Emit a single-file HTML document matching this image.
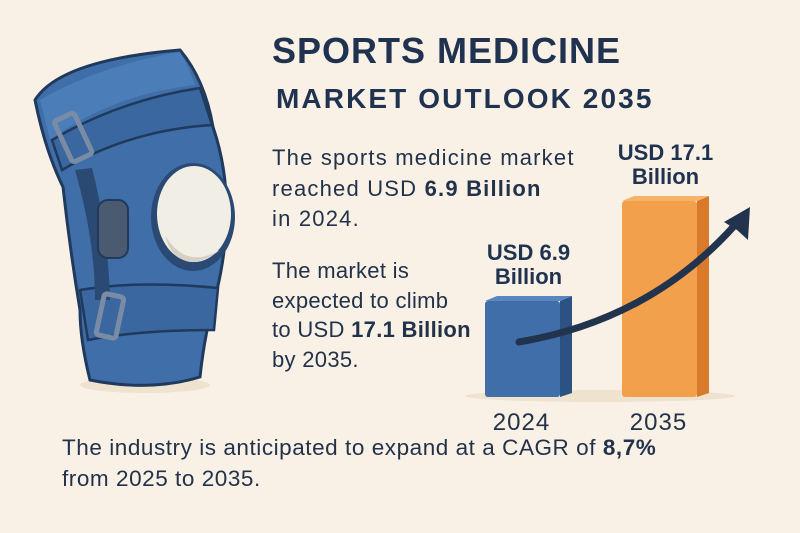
<!DOCTYPE html>
<html><head><meta charset="utf-8">
<style>
body{margin:0;width:800px;height:533px;background:#f9f1e6;overflow:hidden;font-family:"Liberation Sans",sans-serif;color:#22324a;position:relative}
.t{position:absolute;white-space:nowrap}
b{font-weight:bold}
</style></head><body>
<svg width="260" height="420" style="position:absolute;left:0;top:0">
<ellipse cx="145" cy="385" rx="65" ry="8" fill="#efe2cf"/>
<path d="M35,100 Q60,60 180,50 Q205,80 213,127 Q238,200 217,290 Q205,330 200,377 Q150,392 90,380 Q80,340 80,310 Q70,250 63,187 Q45,150 35,100Z" fill="#3f6ea8" stroke="#1f3a5c" stroke-width="3"/>
<path d="M40,100 Q100,65 180,52 Q190,70 195,85 Q110,95 50,140Z" fill="#4b7db8"/>
<path d="M52,140 Q120,100 200,88 L212,125 Q130,130 62,170Z" fill="#3a679f" stroke="#1f3a5c" stroke-width="2.5"/>
<path d="M80,290 Q140,280 218,288 L214,330 Q140,330 88,340Z" fill="#3a679f" stroke="#1f3a5c" stroke-width="2.5"/>
<path d="M75,170 Q95,240 95,300 L110,300 Q108,230 92,168Z" fill="#2b4a73"/>
<rect x="98" y="200" width="30" height="58" rx="10" fill="#4a5a70" stroke="#1f3a5c" stroke-width="2"/>
<rect x="62" y="115" width="22" height="45" rx="3" fill="none" stroke="#7a8ca5" stroke-width="5" transform="rotate(-25 73 137)"/>
<rect x="100" y="295" width="20" height="42" rx="3" fill="none" stroke="#7a8ca5" stroke-width="5" transform="rotate(12 110 316)"/>
<ellipse cx="193" cy="217" rx="42" ry="54" fill="#2b4a73"/>
<ellipse cx="194" cy="214" rx="37" ry="48" fill="#f1eee6"/>
<path d="M165,235 Q185,270 220,250 Q205,262 190,262 Q170,258 165,235Z" fill="#d6d0c4"/>
</svg>
<div class="t" style="left:272px;top:30px;font-size:36px;font-weight:bold;letter-spacing:1px;color:#1f3350">SPORTS MEDICINE</div>
<div class="t" style="left:276px;top:83px;font-size:28px;font-weight:bold;letter-spacing:2.1px;color:#1f3350">MARKET OUTLOOK 2035</div>
<div class="t" style="left:272px;top:143px;font-size:22px;line-height:30.5px;letter-spacing:1.2px">The sports medicine market<br>reached USD <b>6.9 Billion</b><br>in 2024.</div>
<div class="t" style="left:272px;top:256px;font-size:22px;line-height:29.5px;letter-spacing:0.3px">The market is<br>expected to climb<br>to USD <b>17.1 Billion</b><br>by 2035.</div>
<div class="t" style="left:62px;top:432px;font-size:22.5px;line-height:31px;letter-spacing:0.55px">The industry is anticipated to expand at a CAGR of <b>8,7%</b><br>from 2025 to 2035.</div>
<svg id="chart" width="800" height="533" style="position:absolute;left:0;top:0"></svg>
<script>
const categories=["2024","2035"];
const values=[6.9,17.1];
const valueLabels=["USD 6.9","USD 17.1"];
const svg=document.getElementById('chart');
const NS='http://www.w3.org/2000/svg';
const base=396, top_=196, vmin=-3.3, vmax=17.1;
function y(v){return base-(v-vmin)/(vmax-vmin)*(base-top_);}
function x(i){return 485+i*137;}
const fronts=["#3f6ea8","#f2a04c"], sides=["#2b5282","#d97a2a"], tops=["#5a87bf","#f6b36a"];
function el(t,a){const e=document.createElementNS(NS,t);for(const k in a)e.setAttribute(k,a[k]);svg.appendChild(e);return e;}
const sh=el('ellipse',{cx:600,cy:396,rx:135,ry:6,fill:'#efe2cf'});


values.forEach((v,i)=>{
  const x0=x(i), w=75, d=12, yt=y(v);
  const s=el('path',{d:`M${x0+w},${yt+5} L${x0+w+d},${yt} L${x0+w+d},${base-3} L${x0+w},${base+1}Z`,fill:sides[i]});
  
  
  const tp=el('path',{d:`M${x0},${yt+5} L${x0+d},${yt} L${x0+w+d},${yt} L${x0+w},${yt+5}Z`,fill:tops[i]});
  
  
  const r=el('rect',{x:x0,y:yt+5,width:w,height:base-yt-4,rx:3,fill:fronts[i]});
  
  
  const cx=x0+(w+d)/2;
  const l1=el('text',{x:cx,y:yt-36,'text-anchor':'middle','font-size':22,'font-weight':'bold',fill:'#1f3350','font-family':'Liberation Sans'});
  l1.textContent=valueLabels[i];
  
  
  const l2=el('text',{x:cx,y:yt-12,'text-anchor':'middle','font-size':22,'font-weight':'bold',fill:'#1f3350','font-family':'Liberation Sans'});
  l2.textContent='Billion';
  
  
  const c=el('text',{x:cx-7,y:430,'text-anchor':'middle','font-size':24,'letter-spacing':1,fill:'#22324a','font-family':'Liberation Sans'});
  c.textContent=categories[i];
  
  
});
const ar=el('path',{d:'M519,342 Q650,320 735,225',fill:'none',stroke:'#22344d','stroke-width':7,'stroke-linecap':'round'});


const ah=el('path',{d:'M750,207 L748,240 L737,230 L724,222Z',fill:'#22344d'});


</script>
</body></html>
